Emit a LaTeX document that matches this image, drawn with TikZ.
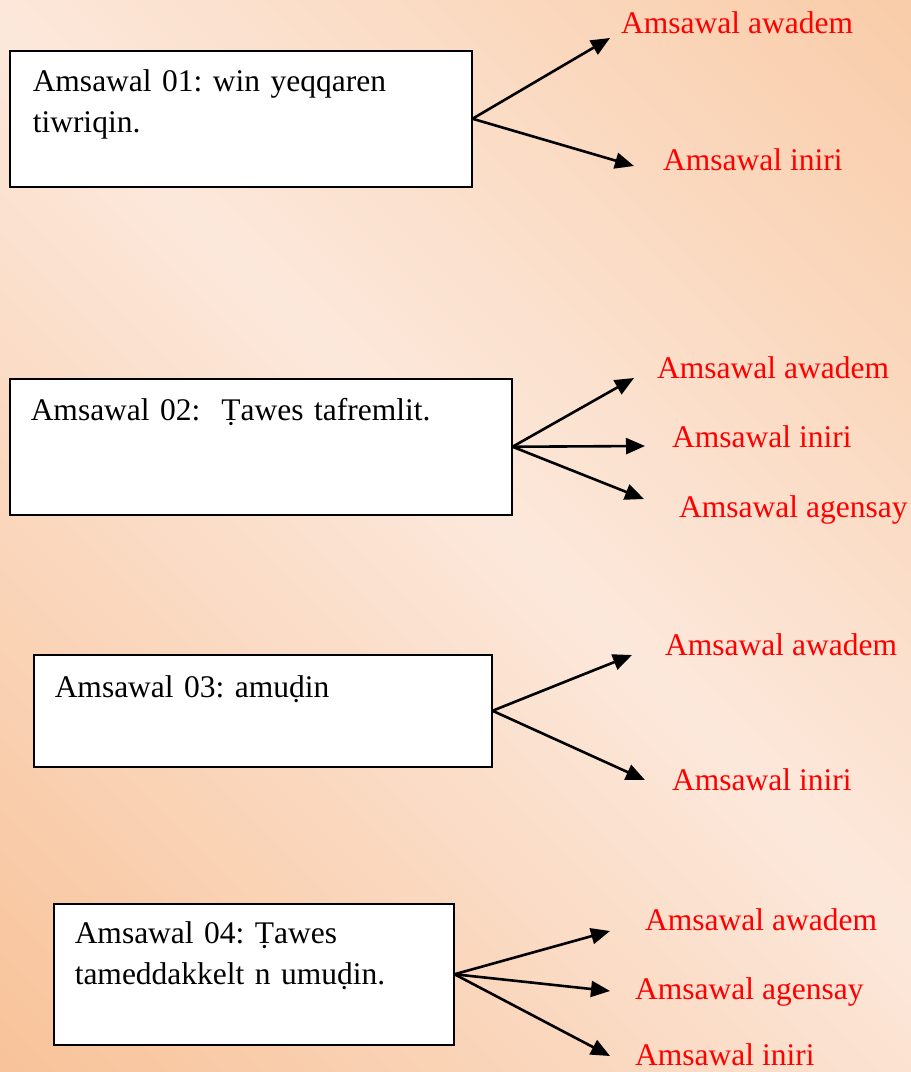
\documentclass[tikz,border=0pt]{standalone}
\usepackage{fontspec}
\setmainfont{Liberation Serif}
\usetikzlibrary{arrows.meta}
\usetikzlibrary{positioning}
\definecolor{peachdark}{RGB}{248,194,152}
\definecolor{peachmid}{RGB}{249,204,168}
\definecolor{peachlight}{RGB}{252,232,219}
\pgfdeclareverticalshading{peachband}{100bp}{color(0bp)=(peachdark); color(14bp)=(peachdark); color(52bp)=(peachlight); color(86bp)=(peachmid); color(100bp)=(peachmid)}
\tikzstyle{ansnode}=[text=red, anchor=base west, inner sep=0pt]
\frenchspacing

\begin{document}
\begin{tikzpicture}[x=1pt, y=-1pt,
 font=\fontsize{31.5}{41}\selectfont,
 boxnode/.style={rectangle, draw=black, fill=white, line width=1.5pt, inner ysep=0pt, inner xsep=21pt, align=left, anchor=north west},
 arrowline/.style={line width=2.6pt, -{Triangle[length=19pt, width=16pt]}}
 ]

 %Background
 \shade[shading=peachband, shading angle=-45] (0,0) rectangle (911,1072);
 \useasboundingbox (0,0) rectangle (911,1072);

 %Nodes
 \node[boxnode, inner xsep=23pt, text width=416pt, text height=41pt, text depth=95pt] (amsawal01_node) at (9,50) {Amsawal 01: win yeqqaren\\tiwriqin.};
 \node[boxnode, text width=460pt, text height=42pt, text depth=94pt] (amsawal02_node) at (9,378) {Amsawal 02:\ \ Ṭawes tafremlit.};
 \node[boxnode, text width=416pt, text height=43pt, text depth=69pt] (amsawal03_node) at (33,654) {Amsawal 03: amuḍin};
 \node[boxnode, text width=358pt, text height=40pt, text depth=101pt] (amsawal04_node) at (53,903) {Amsawal 04: Ṭawes\\tameddakkelt n umuḍin.};

 \node[ansnode] (awadem01_node) at (621,33) {Amsawal awadem};
 \node[ansnode] (iniri01_node) at (663,170) {Amsawal iniri};
 \node[ansnode] (awadem02_node) at (657,378) {Amsawal awadem};
 \node[ansnode] (iniri02_node) at (672,447) {Amsawal iniri};
 \node[ansnode] (agensay02_node) at (679,517) {Amsawal agensay};
 \node[ansnode] (awadem03_node) at (665,655) {Amsawal awadem};
 \node[ansnode] (iniri03_node) at (672,790) {Amsawal iniri};
 \node[ansnode] (awadem04_node) at (645,930) {Amsawal awadem};
 \node[ansnode] (agensay04_node) at (635,999) {Amsawal agensay};
 \node[ansnode] (iniri04_node) at (635,1065) {Amsawal iniri};

 %Tips
 \coordinate (awadem01_tip) at (610,38);
 \coordinate (iniri01_tip) at (634,166);
 \coordinate (awadem02_tip) at (634,378);
 \coordinate (iniri02_tip) at (645,446);
 \coordinate (agensay02_tip) at (644,499);
 \coordinate (awadem03_tip) at (632,655);
 \coordinate (iniri03_tip) at (645,780);
 \coordinate (awadem04_tip) at (610,931);
 \coordinate (agensay04_tip) at (610,991);
 \coordinate (iniri04_tip) at (610,1056);

 %Lines
 \draw[arrowline] (amsawal01_node.east) -- (awadem01_tip);
 \draw[arrowline] (amsawal01_node.east) -- (iniri01_tip);
 \draw[arrowline] (amsawal02_node.east) -- (awadem02_tip);
 \draw[arrowline] (amsawal02_node.east) -- (iniri02_tip);
 \draw[arrowline] (amsawal02_node.east) -- (agensay02_tip);
 \draw[arrowline] (amsawal03_node.east) -- (awadem03_tip);
 \draw[arrowline] (amsawal03_node.east) -- (iniri03_tip);
 \draw[arrowline] (amsawal04_node.east) -- (awadem04_tip);
 \draw[arrowline] (amsawal04_node.east) -- (agensay04_tip);
 \draw[arrowline] (amsawal04_node.east) -- (iniri04_tip);
\end{tikzpicture}
\end{document}
